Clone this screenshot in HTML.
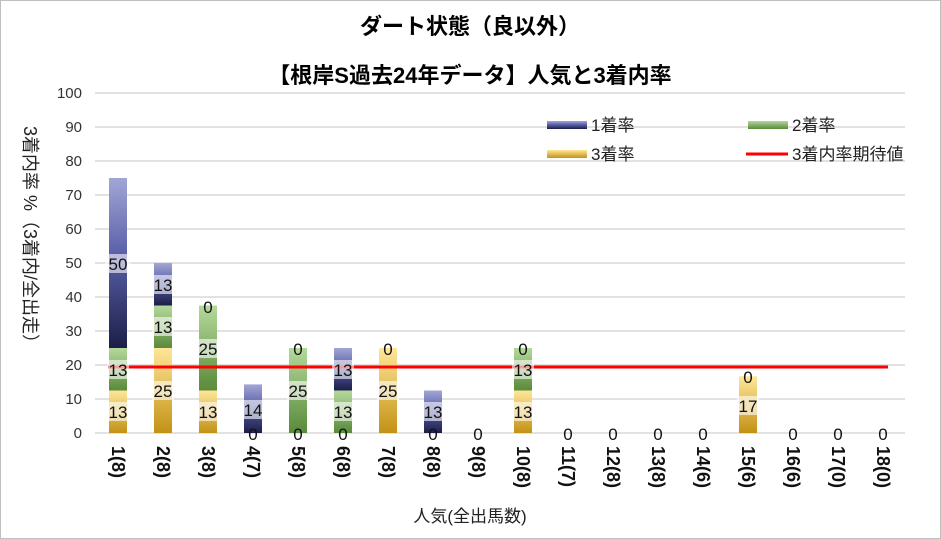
<!DOCTYPE html><html><head><meta charset="utf-8"><style>body{margin:0;background:#fff}svg{display:block}text{font-family:"Liberation Sans","Noto Sans CJK JP",sans-serif}</style></head><body>
<svg width="941" height="539" viewBox="0 0 941 539" xmlns="http://www.w3.org/2000/svg">
<defs>
<linearGradient id="b" x1="0" y1="0" x2="0" y2="1"><stop offset="0" stop-color="#a2a6d6"/><stop offset="0.45" stop-color="#5a60a8"/><stop offset="1" stop-color="#1c1e48"/></linearGradient>
<linearGradient id="g" x1="0" y1="0" x2="0" y2="1"><stop offset="0" stop-color="#b4d99c"/><stop offset="1" stop-color="#5a8a3a"/></linearGradient>
<linearGradient id="y" x1="0" y1="0" x2="0" y2="1"><stop offset="0" stop-color="#ffe699"/><stop offset="1" stop-color="#c39214"/></linearGradient>
</defs>
<rect x="0.5" y="0.5" width="940" height="538" fill="#fff" stroke="#bfbfbf"/>
<text x="470" y="34" font-size="22" font-weight="bold" text-anchor="middle">ダート状態（良以外）</text>
<text x="470" y="83" font-size="22" font-weight="bold" text-anchor="middle">【根岸S過去24年データ】人気と3着内率</text>
<g stroke="#d9d9d9" stroke-width="1.5">
<line x1="95" x2="905" y1="93" y2="93"/><line x1="95" x2="905" y1="127" y2="127"/><line x1="95" x2="905" y1="161" y2="161"/><line x1="95" x2="905" y1="195" y2="195"/><line x1="95" x2="905" y1="229" y2="229"/><line x1="95" x2="905" y1="263" y2="263"/><line x1="95" x2="905" y1="297" y2="297"/><line x1="95" x2="905" y1="331" y2="331"/><line x1="95" x2="905" y1="365" y2="365"/><line x1="95" x2="905" y1="399" y2="399"/><line x1="95" x2="905" y1="433" y2="433"/>
</g>
<g font-size="15" text-anchor="end" fill="#333">
<text x="82" y="98">100</text><text x="82" y="132">90</text><text x="82" y="166">80</text><text x="82" y="200">70</text><text x="82" y="234">60</text><text x="82" y="268">50</text><text x="82" y="302">40</text><text x="82" y="336">30</text><text x="82" y="370">20</text><text x="82" y="404">10</text><text x="82" y="438">0</text>
</g>
<g>
<rect x="109" y="390.5" width="18" height="42.5" fill="url(#y)"/>
<rect x="109" y="348" width="18" height="42.5" fill="url(#g)"/>
<rect x="109" y="178" width="18" height="170" fill="url(#b)"/>
<rect x="154" y="348" width="18" height="85" fill="url(#y)"/>
<rect x="154" y="305.5" width="18" height="42.5" fill="url(#g)"/>
<rect x="154" y="263" width="18" height="42.5" fill="url(#b)"/>
<rect x="199" y="390.5" width="18" height="42.5" fill="url(#y)"/>
<rect x="199" y="305.5" width="18" height="85" fill="url(#g)"/>
<rect x="244" y="384.4" width="18" height="48.6" fill="url(#b)"/>
<rect x="289" y="348" width="18" height="85" fill="url(#g)"/>
<rect x="334" y="390.5" width="18" height="42.5" fill="url(#g)"/>
<rect x="334" y="348" width="18" height="42.5" fill="url(#b)"/>
<rect x="379" y="348" width="18" height="85" fill="url(#y)"/>
<rect x="424" y="390.5" width="18" height="42.5" fill="url(#b)"/>
<rect x="514" y="390.5" width="18" height="42.5" fill="url(#y)"/>
<rect x="514" y="348" width="18" height="42.5" fill="url(#g)"/>
<rect x="739" y="376.3" width="18" height="56.7" fill="url(#y)"/>
</g>
<line x1="108" x2="888" y1="367" y2="367" stroke="#ff0000" stroke-width="3"/>
<g font-size="17" text-anchor="middle" fill="#111">
<g fill="#fff" opacity="0.6">
<rect x="107" y="402" width="22" height="19"/><rect x="107" y="360" width="22" height="19"/><rect x="105" y="254" width="26" height="19"/>
<rect x="152" y="381" width="22" height="19"/><rect x="152" y="317" width="22" height="19"/><rect x="152" y="275" width="22" height="19"/>
<rect x="197" y="402" width="22" height="19"/><rect x="197" y="339" width="22" height="19"/>
<rect x="242" y="400" width="22" height="19"/><rect x="287" y="381" width="22" height="19"/><rect x="332" y="402" width="22" height="19"/><rect x="332" y="360" width="22" height="19"/><rect x="377" y="381" width="22" height="19"/><rect x="422" y="402" width="22" height="19"/><rect x="512" y="402" width="22" height="19"/><rect x="512" y="360" width="22" height="19"/><rect x="737" y="396" width="22" height="19"/>
</g>
<text x="118" y="418">13</text><text x="118" y="376">13</text><text x="118" y="270">50</text>
<text x="163" y="397">25</text><text x="163" y="333">13</text><text x="163" y="291">13</text>
<text x="208" y="418">13</text><text x="208" y="355">25</text><text x="208" y="313">0</text>
<text x="253" y="440">0</text><text x="253" y="416">14</text>
<text x="298" y="440">0</text><text x="298" y="397">25</text><text x="298" y="355">0</text>
<text x="343" y="440">0</text><text x="343" y="418">13</text><text x="343" y="376">13</text>
<text x="388" y="397">25</text><text x="388" y="355">0</text>
<text x="433" y="440">0</text><text x="433" y="418">13</text>
<text x="478" y="440">0</text>
<text x="523" y="418">13</text><text x="523" y="376">13</text><text x="523" y="355">0</text>
<text x="568" y="440">0</text><text x="613" y="440">0</text><text x="658" y="440">0</text><text x="703" y="440">0</text>
<text x="748" y="412">17</text><text x="748" y="383">0</text>
<text x="793" y="440">0</text><text x="838" y="440">0</text><text x="883" y="440">0</text>
</g>
<g font-size="18" font-weight="bold" fill="#111">
<text transform="translate(112,446) rotate(90)">1(8)</text>
<text transform="translate(157,446) rotate(90)">2(8)</text>
<text transform="translate(202,446) rotate(90)">3(8)</text>
<text transform="translate(247,446) rotate(90)">4(7)</text>
<text transform="translate(292,446) rotate(90)">5(8)</text>
<text transform="translate(337,446) rotate(90)">6(8)</text>
<text transform="translate(382,446) rotate(90)">7(8)</text>
<text transform="translate(427,446) rotate(90)">8(8)</text>
<text transform="translate(472,446) rotate(90)">9(8)</text>
<text transform="translate(517,446) rotate(90)">10(8)</text>
<text transform="translate(562,446) rotate(90)">11(7)</text>
<text transform="translate(607,446) rotate(90)">12(8)</text>
<text transform="translate(652,446) rotate(90)">13(8)</text>
<text transform="translate(697,446) rotate(90)">14(6)</text>
<text transform="translate(742,446) rotate(90)">15(6)</text>
<text transform="translate(787,446) rotate(90)">16(6)</text>
<text transform="translate(832,446) rotate(90)">17(0)</text>
<text transform="translate(877,446) rotate(90)">18(0)</text>
</g>
<text x="470" y="522" font-size="17" text-anchor="middle" fill="#222">人気(全出馬数)</text>
<text transform="translate(24,126) rotate(90)" font-size="18" fill="#222">3着内率 %（3着内/全出走）</text>
<rect x="547" y="121" width="40" height="8" fill="url(#b)"/><text x="591" y="131" font-size="17" fill="#222">1着率</text>
<rect x="748" y="121" width="40" height="8" fill="url(#g)"/><text x="792" y="131" font-size="17" fill="#222">2着率</text>
<rect x="547" y="150" width="40" height="8" fill="url(#y)"/><text x="591" y="160" font-size="17" fill="#222">3着率</text>
<line x1="746" x2="788" y1="154" y2="154" stroke="#ff0000" stroke-width="3"/><text x="792" y="160" font-size="17" fill="#222">3着内率期待値</text>
</svg>
</body></html>
